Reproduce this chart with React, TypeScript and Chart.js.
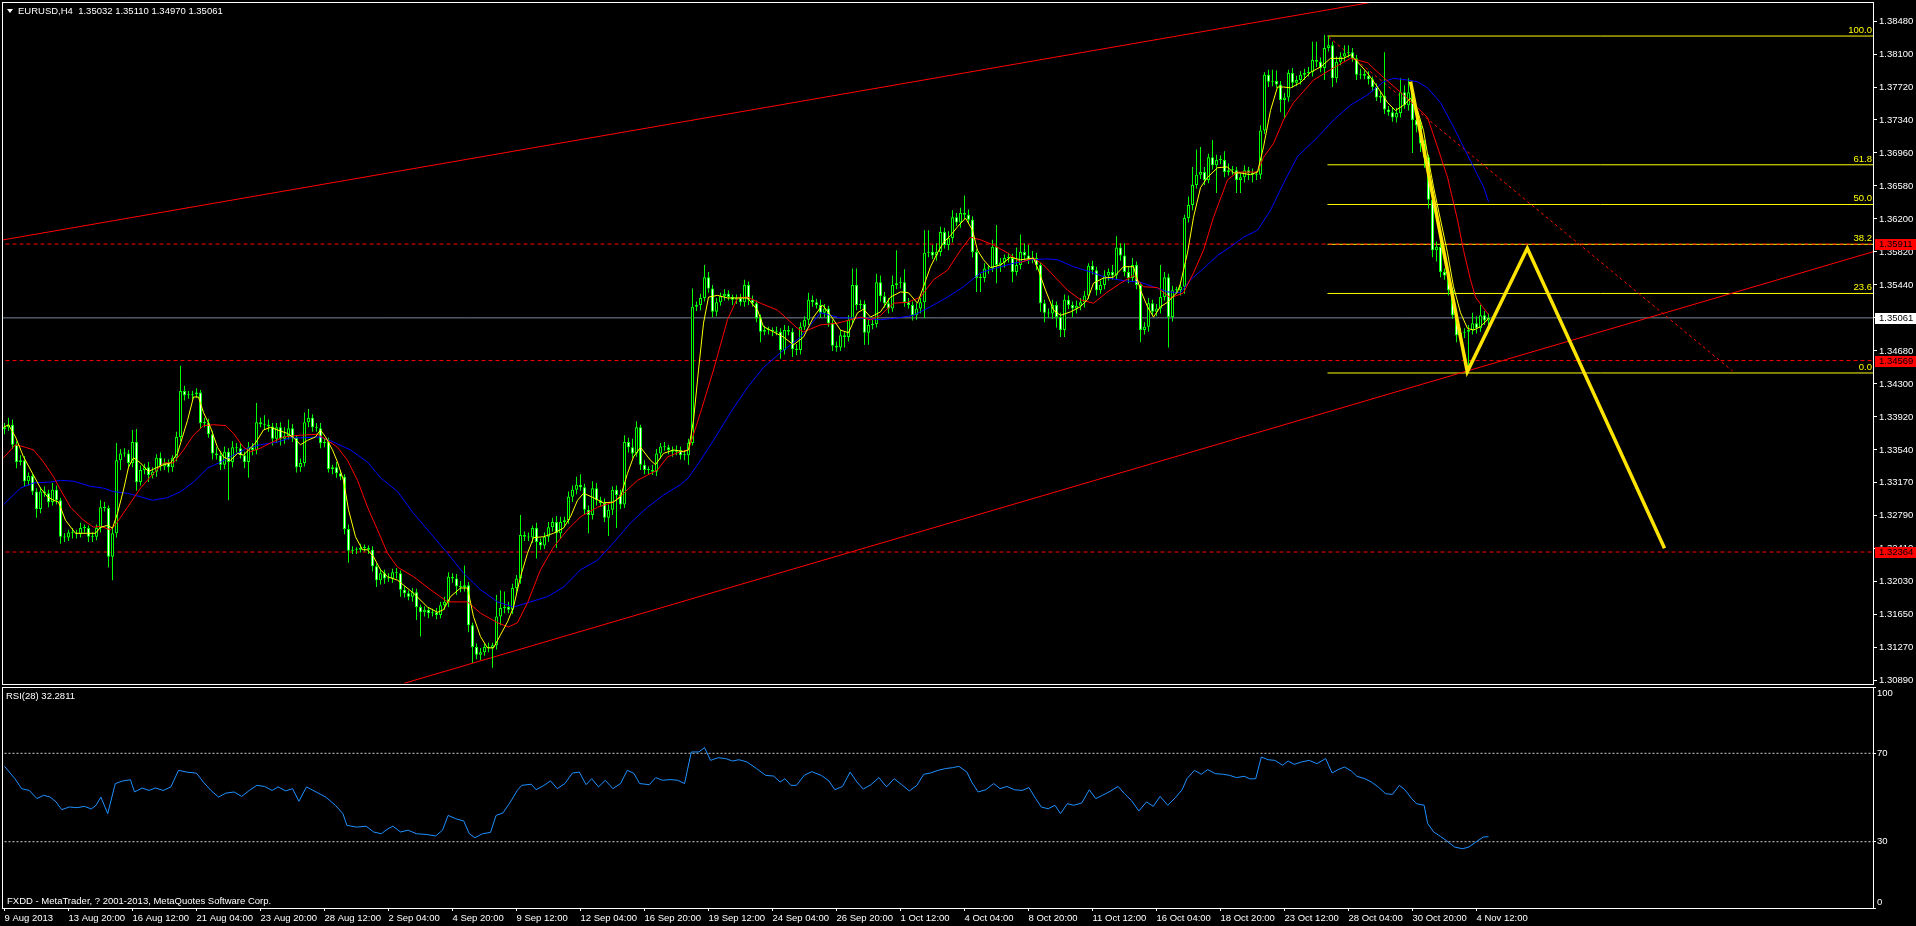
import React, { useEffect, useRef } from "react";
import { Chart, registerables } from "chart.js";

Chart.register(...registerables);

const FONT = "'Liberation Sans', Arial, sans-serif";

// ---------- DATA (prices in 1/10000 units) ----------
const FIRST_OPEN = 13378;
const CLOSES = [
  13380,13383,13360,13340,13342,13318,13324,13306,13286,13306,13304,13294,13308,13296,13254,13253,13259,13258,13257,13264,
  13264,13254,13254,13264,13288,13287,13231,13258,13342,13350,13350,13339,13363,13317,13331,13334,13325,13329,13345,13335,
  13339,13334,13345,13369,13422,13417,13417,13418,13420,13385,13385,13372,13350,13348,13337,13352,13340,13357,13356,13348,
  13340,13357,13354,13386,13384,13383,13381,13367,13380,13367,13370,13379,13368,13334,13339,13386,13391,13380,13379,13362,
  13363,13332,13334,13327,13323,13263,13238,13239,13239,13241,13241,13239,13220,13204,13212,13206,13206,13213,13212,13193,
  13189,13185,13190,13173,13167,13170,13166,13167,13164,13175,13179,13208,13206,13197,13196,13198,13152,13127,13118,13121,
  13127,13126,13129,13162,13172,13173,13170,13195,13206,13256,13254,13253,13264,13248,13244,13254,13265,13271,13258,13271,
  13273,13300,13308,13314,13311,13285,13279,13310,13296,13293,13276,13285,13308,13302,13291,13363,13357,13350,13380,13337,
  13331,13331,13329,13350,13358,13357,13354,13352,13354,13348,13348,13362,13519,13521,13529,13553,13540,13513,13524,13531,
  13534,13530,13527,13529,13524,13544,13527,13523,13506,13490,13492,13492,13491,13490,13469,13492,13490,13470,13469,13496,
  13504,13527,13524,13521,13512,13517,13500,13474,13472,13486,13484,13504,13544,13521,13522,13489,13498,13499,13547,13531,
  13523,13517,13544,13546,13547,13524,13521,13509,13517,13524,13581,13582,13578,13582,13605,13590,13598,13622,13616,13627,
  13625,13619,13582,13552,13552,13563,13563,13588,13567,13570,13575,13575,13559,13567,13582,13578,13573,13575,13567,13523,
  13512,13511,13521,13507,13492,13527,13521,13517,13520,13524,13532,13566,13561,13538,13544,13555,13559,13555,13587,13578,
  13559,13552,13567,13544,13492,13496,13523,13513,13517,13530,13553,13507,13538,13538,13542,13621,13636,13659,13671,13674,
  13665,13691,13682,13688,13688,13674,13676,13676,13665,13668,13676,13673,13671,13671,13722,13786,13778,13779,13775,13757,
  13760,13788,13777,13780,13786,13788,13789,13803,13801,13794,13817,13820,13782,13801,13807,13811,13812,13805,13786,13787,
  13785,13781,13772,13760,13762,13746,13743,13737,13742,13766,13751,13766,13734,13728,13707,13691,13642,13584,13588,13559,
  13555,13538,13509,13486,13489,13490,13492,13500,13494,13509,13503,13506,
];
const UPPER_WICKS = [
  5,8,6,4,6,5,4,3,4,5,6,4,8,5,3,4,3,5,4,6,
  4,3,5,4,8,6,3,6,20,5,6,4,14,15,5,4,6,5,4,6,
  5,4,3,6,29,6,5,4,5,3,6,5,4,7,5,6,4,7,5,6,
  4,6,5,22,5,10,6,4,5,6,10,10,5,3,5,11,10,4,5,6,
  4,5,3,6,4,3,5,4,3,5,4,3,4,3,5,4,6,4,5,3,
  4,3,5,4,3,4,3,4,5,4,6,5,4,5,6,23,4,3,4,5,
  4,5,3,25,20,18,6,5,4,23,4,5,3,6,4,5,6,5,7,6,
  4,6,5,9,12,4,5,8,6,4,5,6,4,5,6,8,5,10,7,3,
  5,4,6,5,4,5,3,4,5,4,6,5,21,4,5,14,6,4,5,4,
  5,4,3,4,5,6,4,5,3,4,5,4,3,5,4,6,5,4,6,5,
  4,8,5,4,6,5,3,4,5,6,4,5,19,19,5,4,6,5,10,8,
  5,6,11,38,6,15,5,4,6,5,26,25,8,10,6,5,8,8,5,6,
  20,6,4,3,5,6,4,8,25,5,4,6,5,20,20,10,12,8,6,3,
  4,5,6,4,5,6,5,4,6,5,5,3,6,4,5,6,4,8,13,5,
  14,6,8,4,3,5,6,4,5,37,6,4,5,4,6,4,10,21,29,29,
  6,4,20,6,5,10,8,5,4,5,6,4,5,4,6,3,6,13,12,4,
  5,4,6,5,4,5,6,21,21,5,15,11,4,6,5,9,8,5,4,6,
  4,5,3,4,5,50,4,5,6,16,8,16,4,3,5,4,3,4,6,5,
  4,5,3,4,5,4,6,12,8,12,5,5,
];
const LOWER_WICKS = [
  6,4,5,7,4,6,5,4,10,5,4,6,4,5,8,5,4,6,5,4,
  5,6,6,4,5,4,12,27,5,11,4,6,5,10,4,5,8,4,6,5,
  4,6,5,4,5,6,4,5,4,6,5,4,7,5,6,5,44,6,5,4,
  7,18,6,5,4,5,6,8,5,8,6,4,5,6,5,4,6,5,4,6,
  5,4,6,5,4,6,14,4,5,3,4,5,6,8,5,6,4,5,6,8,
  5,4,6,15,28,5,6,4,5,4,5,6,5,10,6,5,8,18,5,6,
  4,5,23,5,10,6,4,5,8,6,5,4,6,19,5,4,6,5,17,6,
  5,4,6,5,4,6,21,5,6,4,5,21,6,38,5,4,6,5,4,6,
  5,6,4,5,6,4,5,6,4,5,6,11,3,5,6,4,5,6,5,4,
  5,4,6,5,4,5,6,4,5,12,4,5,6,4,10,5,4,9,6,5,
  4,6,5,4,6,5,4,6,5,4,12,5,4,6,5,14,14,5,4,6,
  5,6,4,5,6,5,4,6,5,6,18,5,4,6,5,4,6,5,4,6,
  5,4,6,16,16,5,6,4,21,8,6,5,12,4,5,6,5,4,6,10,
  11,5,6,12,8,8,5,10,6,5,6,4,5,6,4,5,6,5,4,6,
  5,6,4,5,14,5,6,4,5,6,4,35,5,4,6,8,5,6,4,5,
  6,4,5,32,5,6,4,5,15,15,6,8,9,6,5,4,6,5,4,14,
  21,5,6,4,5,6,4,5,6,5,14,4,10,5,4,6,5,4,6,5,
  4,6,5,4,6,5,4,5,6,5,4,6,38,8,10,12,10,8,13,6,
  5,6,4,8,5,6,47,5,6,4,5,6,
];

// Moving averages: [bar index, price in 1/10000]
const FAST_MA: [number, number][] = [
  [-0.25,13380],[1,13383],[2.75,13369],[4.75,13346],[7,13327],[9,13310],[10.75,13300],[12.25,13296],[13.5,13294],[15.25,13273],
  [17.75,13258],[20.75,13258],[22.75,13258],[24,13265],[25.75,13267],[27,13264],[28.25,13281],[29.75,13308],[31,13334],[32.25,13345],
  [34,13339],[36,13329],[37.75,13333],[39.75,13337],[41.5,13339],[43.25,13350],[44.5,13369],[45.75,13388],[47.25,13415],[48.5,13415],
  [49.75,13397],[51.5,13380],[53.25,13357],[54.75,13346],[56.5,13342],[58.25,13350],[59.75,13348],[61,13354],[62.75,13362],[64.75,13377],
  [66.5,13380],[68.25,13377],[70.75,13373],[72.25,13368],[74,13360],[75.75,13365],[77.75,13369],[79,13377],[80.25,13369],[82,13354],
  [83.25,13340],[84.75,13319],[86,13285],[87.75,13254],[89.5,13239],[90.75,13239],[92.25,13231],[94,13216],[95.75,13208],[98.25,13204],
  [102.25,13189],[105.75,13173],[108.25,13167],[109.75,13170],[111.5,13185],[114,13195],[115.75,13195],[117.25,13162],[119,13139],[120.75,13126],
  [122.25,13126],[124,13141],[125.75,13156],[127.25,13173],[129,13208],[130.75,13235],[132.25,13253],[134.75,13254],[137.25,13258],[139.75,13264],
  [141.5,13277],[143.25,13296],[144.75,13304],[147.25,13299],[149.75,13293],[152.25,13294],[154,13300],[155.75,13327],[157.25,13346],[159,13357],
  [161.5,13342],[162.75,13337],[164.75,13350],[167.25,13354],[169.75,13352],[171,13354],[172.25,13388],[173.5,13446],[174.75,13500],[176,13530],
  [178.25,13532],[180.75,13529],[183.25,13529],[185.75,13529],[188.25,13515],[189.75,13496],[192.25,13490],[194.75,13484],[197.25,13475],[199.75,13484],
  [202.25,13507],[204.5,13521],[206.5,13509],[209,13492],[211,13489],[213.25,13512],[214.75,13516],[216.5,13507],[219,13513],[221.5,13530],
  [224,13536],[226,13535],[228.25,13523],[229.75,13542],[231.5,13565],[233.25,13581],[234.75,13593],[236.5,13601],[238.25,13611],[240.25,13621],
  [242,13607],[243.25,13584],[244.75,13573],[246.5,13564],[249,13567],[251.5,13576],[254,13573],[257.25,13575],[258.5,13561],[260.25,13538],
  [262.25,13515],[264,13509],[266.5,13513],[269,13519],[270.75,13527],[272.25,13546],[274.75,13552],[277.25,13553],[279.75,13565],[282.25,13565],
  [284,13538],[285.75,13519],[287.25,13507],[289,13519],[290.75,13524],[293.25,13536],[294,13546],[295.75,13581],[297.25,13622],[299,13656],
  [300.75,13668],[303.25,13679],[305.75,13680],[307.25,13673],[309,13673],[311.5,13671],[313.25,13674],[314.75,13703],[316.5,13745],[318.25,13772],
  [319.75,13772],[321.5,13771],[324,13777],[326.5,13789],[329,13795],[331.5,13805],[334.75,13805],[336.5,13809],[338.25,13801],[340.75,13788],
  [343.25,13772],[345.75,13754],[347.75,13745],[349.75,13751],[351.5,13759],[353.25,13745],[354.75,13722],[356,13688],[357.25,13657],[359,13619],
  [360.75,13581],[362.25,13542],[364,13512],[365.75,13494],[367.25,13492],[369,13496],[370.75,13504],[371,13506],
];
const MID_MA: [number, number][] = [
  [-0.25,13345],[2.75,13360],[5.25,13357],[7.25,13354],[9.75,13340],[12.25,13323],[14,13308],[16.5,13288],[19.75,13273],[22.25,13265],
  [24,13266],[26.5,13262],[27.75,13268],[30.75,13288],[34,13310],[37.25,13327],[39.75,13339],[42.25,13339],[44.75,13354],[47.25,13371],
  [49.75,13382],[52.25,13383],[55.25,13382],[57.25,13373],[59.75,13357],[61.5,13352],[64,13356],[66.5,13362],[69.75,13369],[74,13371],
  [78.25,13372],[80.75,13365],[83.25,13357],[85.75,13342],[88.25,13319],[90.75,13288],[93.25,13262],[95.75,13235],[98.25,13219],[102.25,13208],
  [106.5,13193],[110.75,13179],[115.75,13179],[119,13166],[123.25,13155],[126,13150],[128.25,13155],[130.75,13178],[134,13216],[137.25,13242],
  [140.75,13262],[144,13277],[148.25,13288],[152.25,13294],[154.75,13304],[158.25,13319],[160.75,13325],[163.25,13331],[165.75,13346],[169,13352],
  [171,13354],[174,13397],[177.25,13446],[180.75,13504],[183.25,13529],[185.75,13530],[189,13523],[193.25,13515],[198.25,13494],[199.75,13490],
  [204,13498],[208.25,13500],[214,13507],[216.5,13504],[219,13509],[222.25,13523],[225.75,13524],[229,13530],[232.25,13550],[235.75,13561],
  [239,13584],[241.5,13599],[244,13596],[247.25,13590],[250.75,13581],[254,13570],[257.25,13575],[259.75,13567],[263.25,13550],[265.75,13538],
  [269,13527],[272.25,13523],[275.75,13536],[279,13546],[282.25,13555],[284.75,13542],[288.25,13541],[291.5,13529],[294.75,13535],[297.25,13558],
  [299.75,13584],[302.25,13622],[305.75,13665],[308.25,13674],[313.25,13674],[314.75,13691],[317.25,13707],[319.75,13734],[322.25,13754],[324,13763],
  [327.25,13780],[331.5,13792],[336.5,13805],[340.75,13800],[344.75,13783],[349,13766],[353.25,13748],[355.75,13737],[358.25,13703],[360.75,13668],
  [363.25,13619],[364.75,13584],[366.5,13550],[367.75,13530],[369.5,13519],[371,13510],
];
const SLOW_MA: [number, number][] = [
  [-0.25,13291],[4,13310],[7.25,13316],[11.5,13317],[14,13319],[17.25,13318],[21.5,13312],[24.75,13310],[27.25,13306],[30.75,13304],
  [34,13300],[37,13296],[40.75,13299],[44,13306],[47.25,13317],[50.75,13333],[54,13340],[57.25,13348],[60.75,13356],[64,13360],
  [68.25,13363],[71.5,13368],[74.75,13368],[79,13369],[82.25,13363],[86.5,13354],[90.75,13340],[94,13322],[98.25,13306],[102.25,13281],
  [106.5,13258],[110.75,13235],[114.75,13212],[119,13193],[123.25,13179],[127.25,13173],[131.5,13179],[135.75,13185],[139.75,13196],[144,13216],
  [148.25,13227],[152.25,13247],[156.5,13270],[160.75,13288],[164.75,13302],[169,13314],[171,13322],[174,13342],[177.25,13365],[181.5,13397],
  [185.75,13426],[189.75,13449],[194,13466],[199,13484],[204,13512],[209,13506],[214,13506],[219,13504],[223.25,13506],[227.25,13509],
  [231.5,13519],[235.75,13530],[239.75,13542],[244,13558],[248.25,13564],[252.25,13569],[256.5,13573],[260.75,13574],[263.25,13573],[267.25,13565],
  [271.5,13559],[275.75,13552],[279.75,13549],[284,13547],[287.25,13542],[290.75,13536],[294,13535],[296.5,13550],[299.75,13563],[303.25,13578],
  [306.5,13588],[309.75,13599],[313.25,13607],[316.5,13630],[319.75,13661],[323.25,13692],[328.25,13714],[332.25,13734],[336.5,13751],[340.75,13763],
  [344.75,13778],[347.25,13782],[350.75,13780],[353.25,13778],[355.75,13771],[359,13754],[362.25,13726],[364.75,13703],[367.25,13680],[369.75,13657],
  [371,13640],
];

// RSI(28): [bar index, value]
const RSI_POINTS: [number, number][] = [
  [0,64.1],[2.6,58.5],[4.3,54],[6.2,53.2],[8.1,49.5],[9.8,51],[11.4,50.2],[12.9,48],[14.3,44.5],[16.2,45.7],[18.1,45.4],[20,46],[21.7,44.8],[22.9,46.5],
  [24.1,50.2],[25.8,42.7],[27.7,56.3],[29.6,57.5],[31.5,58],[32.5,52.5],[34.4,54.3],[36.1,53.2],[37.7,54.3],[39.7,53.2],[41.6,54.8],[43.5,62.3],
  [45.6,61.5],[48,61],[49.7,57],[51.6,53.2],[53.5,50.2],[55.4,52],[57.4,52.5],[59.3,50.5],[61.2,53.2],[63.1,55.5],[65,55],[66.9,53.2],[68.4,54.8],
  [70.3,53],[72,54],[73.6,48.3],[75.5,54.8],[77.9,52.5],[80.3,50.2],[82.7,46.5],[84.6,42.7],[85.6,37.4],[88,36.6],[90.4,37],[92.3,34.4],[94.2,33.6],
  [95.9,35.9],[97.1,37],[99,34.4],[100.9,35.2],[103,33.6],[105.4,33.3],[107.8,32.6],[109.5,35.2],[110.9,41.9],[112.8,40.4],[114.8,39.4],[116.2,33.6],
  [117.6,31.8],[119.5,33.6],[121.5,34.2],[122.9,41.9],[124.6,43],[126.2,47.2],[128.2,53.2],[129.3,55.5],[131.7,56],[132.9,53.5],[134.9,55.5],[136.5,57.5],
  [138.2,54],[140.1,56.3],[142,61.1],[143.7,61.5],[145.4,55.8],[146.8,58.5],[148.5,54.8],[150.2,57.8],[152.1,54],[154,56.3],[155.7,62.3],[157.3,61],
  [158.8,56.3],[161.2,55.8],[162.8,59],[164.5,57.8],[166.4,58.1],[168.3,57.8],[170,56.3],[171.7,70.6],[173.6,70.6],[175,72.6],[176.5,66.8],[178.4,68],
  [180.3,67.6],[182,66.5],[183.6,67.1],[185.6,66.1],[188,63.1],[190.3,60],[192.3,59.7],[193.9,57],[195.1,58.5],[196.6,55.5],[198,55.5],[199.9,60],
  [201.8,61.7],[204.2,60],[206.1,57.5],[207.6,53.5],[209.5,55],[211.4,61.5],[213.1,57],[214.7,53.8],[216.6,55.8],[218.6,59],[220.5,54.8],[222.4,58.5],
  [224.3,55.8],[226.2,53],[228.1,55.5],[229.8,60.5],[231.5,61.1],[233.4,62.3],[235.3,63.1],[237,63.5],[238.6,64.1],[240.6,61.5],[241.8,57],[243.4,52.5],
  [245.3,53.5],[247.3,56.3],[248.9,54],[250.6,55],[252.5,53.5],[254.4,53.2],[256.1,54.5],[257.8,49.5],[259.2,45.7],[260.9,44.9],[262.6,46.5],[264,42.7],
  [265.7,47.2],[267.3,46.5],[269.3,47.5],[271.2,53.5],[272.8,49.5],[274.5,51],[276.4,52.8],[278.4,55],[280,51.7],[281.7,48.7],[283.6,43.9],[285.5,48],
  [287.2,46],[288.9,50.5],[290.8,46.5],[292.7,49.9],[294.4,53.5],[295.6,58.5],[297.5,62.3],[299.2,60.5],[300.8,62.6],[302.7,60.8],[304.7,60.5],[306.3,60],
  [308,59],[309.9,59.6],[311.4,58.4],[312.8,58.5],[314.2,68.3],[315.9,67.1],[317.6,66.8],[319.5,64.6],[320.9,66.5],[322.4,65],[324.3,66.1],[326.2,66.8],
  [328.1,65.3],[330.3,67.6],[331.9,61.1],[333.4,62.6],[335,63.8],[336.7,62],[338.1,59.6],[340.1,58.5],[341.7,57],[343.4,54.8],[345.3,51.7],[347,51.4],
  [348.7,55.5],[350.1,53.5],[351.8,49.5],[353,47.2],[354.9,46.5],[355.8,38.2],[357.3,34.4],[359,32.4],[360.6,30.3],[362.5,27.6],[364.5,26.8],[366.1,27.6],
  [367.8,29.8],[369.7,32.1],[371,32.28],
];
const RSI_LEVELS = [70, 30];
const RSI_TICKS = [0, 30, 70, 100];

// Drawn objects
const FIB_LABELS = ["100.0", "61.8", "50.0", "38.2", "23.6", "0.0"];
const FIB_PRICES = [1.38307, 1.36824, 1.36367, 1.35908, 1.35342, 1.34426];
const FIB_START_BAR = 330.75;
const RED_LEVELS = [1.35911, 1.34569, 1.32364];
const CURRENT_PRICE = 1.35061;
const UPPER_CHANNEL: [number, number][] = [[-1, 1.35954], [350, 1.38762]];
const LOWER_CHANNEL: [number, number][] = [[100, 1.30853], [470, 1.35861]];
const DASHED_TREND: [number, number][] = [[331, 1.38296], [432, 1.34449]];
const ZIGZAG: [number, number][] = [[351.5, 1.37781], [365.7, 1.34441], [380.7, 1.35862], [415, 1.32407]];

const PRICE_TICKS = [1.3089, 1.3127, 1.3165, 1.3203, 1.3241, 1.3279, 1.3317, 1.3354, 1.3392, 1.343, 1.3468, 1.3506, 1.3544, 1.3582, 1.362, 1.3658, 1.3696, 1.3734, 1.3772, 1.381, 1.3848];
const TIME_TICK_BARS = [0, 16, 32, 48, 64, 80, 96, 112, 128, 144, 160, 176, 192, 208, 224, 240, 256, 272, 288, 304, 320, 336, 352, 368];
const TIME_LABELS = ["9 Aug 2013", "13 Aug 20:00", "16 Aug 12:00", "21 Aug 04:00", "23 Aug 20:00", "28 Aug 12:00", "2 Sep 04:00", "4 Sep 20:00", "9 Sep 12:00", "12 Sep 04:00", "16 Sep 20:00", "19 Sep 12:00", "24 Sep 04:00", "26 Sep 20:00", "1 Oct 12:00", "4 Oct 04:00", "8 Oct 20:00", "11 Oct 12:00", "16 Oct 04:00", "18 Oct 20:00", "23 Oct 12:00", "28 Oct 04:00", "30 Oct 20:00", "4 Nov 12:00"];

const TITLE = "EURUSD,H4  1.35032 1.35110 1.34970 1.35061";
const RSI_TITLE = "RSI(28) 32.2811";
const FOOTER = "FXDD - MetaTrader, ? 2001-2013, MetaQuotes Software Corp.";

// ---------- layout constants ----------
const PIP = 10000;
const X_MIN = -0.625;
const X_MAX = 467.125;
const Y_MIN = 1.30844;
const Y_MAX = 1.38699;
const AXIS_W = 43;
const FONT_SIZE = 9.5;

const pts = (arr: [number, number][], div = 1) => arr.map(([x, y]) => ({ x, y: y / div }));
const lineDs = (data: any[], color: string, width = 1, dash: number[] = [], order = 1): any => ({
  type: "line",
  data,
  borderColor: color,
  borderWidth: width,
  borderDash: dash,
  pointRadius: 0,
  pointHoverRadius: 0,
  fill: false,
  tension: 0,
  order,
});
const hLine = (p: number, from = -5) => [{ x: from, y: p }, { x: 480, y: p }];

const mainOverlay = {
  id: "mainOverlay",
  afterDraw(chart: any) {
    const { ctx, chartArea: a, scales } = chart;
    const ys = scales.y;
    ctx.save();
    ctx.strokeStyle = "#ffffff";
    ctx.lineWidth = 1;
    ctx.setLineDash([]);
    ctx.strokeRect(a.left + 0.5, a.top + 0.5, a.right - a.left, a.bottom - a.top);
    ctx.font = `${FONT_SIZE}px ${FONT}`;
    ctx.fillStyle = "#ffff00";
    ctx.textAlign = "right";
    ctx.textBaseline = "bottom";
    FIB_PRICES.forEach((p, i) => {
      ctx.fillText(FIB_LABELS[i], a.right - 1, Math.round(ys.getPixelForValue(p)) - 1);
    });
    const box = (price: number, bg: string, fg: string) => {
      const py = Math.round(ys.getPixelForValue(price));
      ctx.fillStyle = bg;
      ctx.fillRect(a.right + 2, py - 5, 41, 11);
      ctx.fillStyle = fg;
      ctx.textAlign = "left";
      ctx.textBaseline = "middle";
      ctx.fillText(price.toFixed(5), a.right + 6, py + 0.5);
    };
    RED_LEVELS.forEach((p) => box(p, "#ff0000", "#000000"));
    box(CURRENT_PRICE, "#ffffff", "#000000");
    ctx.restore();
  },
};

const rsiOverlay = {
  id: "rsiOverlay",
  afterDraw(chart: any) {
    const { ctx, chartArea: a } = chart;
    ctx.save();
    ctx.strokeStyle = "#ffffff";
    ctx.lineWidth = 1;
    ctx.setLineDash([]);
    ctx.strokeRect(a.left + 0.5, a.top + 0.5, a.right - a.left, a.bottom - a.top);
    ctx.font = `${FONT_SIZE}px ${FONT}`;
    ctx.fillStyle = "#ffffff";
    ctx.textAlign = "left";
    ctx.textBaseline = "middle";
    ctx.fillText(String(RSI_TICKS[3]), a.right + 4, a.top + 6);
    ctx.fillText(String(RSI_TICKS[0]), a.right + 4, a.bottom - 6);
    ctx.restore();
  },
};

export default function App() {
  const mainRef = useRef<HTMLCanvasElement>(null);
  const rsiRef = useRef<HTMLCanvasElement>(null);

  useEffect(() => {
    document.body.style.margin = "0";
    document.body.style.background = "#000";
    Chart.defaults.font.family = FONT;

    const opens = CLOSES.map((c, i) => (i === 0 ? FIRST_OPEN : CLOSES[i - 1]));
    const wickData = CLOSES.map((c, i) => ({
      x: i,
      y: [(Math.min(opens[i], c) - LOWER_WICKS[i]) / PIP, (Math.max(opens[i], c) + UPPER_WICKS[i]) / PIP],
    }));
    const bodyData = CLOSES.map((c, i) => ({ x: i, y: [opens[i] / PIP, c / PIP] }));
    const bodyFill = CLOSES.map((c, i) => (c >= opens[i] ? "#000000" : "#ffffff"));

    const datasets: any[] = [
      ...RED_LEVELS.map((p) => lineDs(hLine(p), "#ff0000", 1, [4, 3], 7)),
      lineDs(hLine(CURRENT_PRICE), "#778899", 1, [], 7),
      ...FIB_PRICES.map((p) => lineDs(hLine(p, FIB_START_BAR), "#ffff00", 1, [], 7)),
      lineDs(pts(UPPER_CHANNEL), "#ff0000", 1, [], 6),
      lineDs(pts(LOWER_CHANNEL), "#ff0000", 1, [], 6),
      lineDs(pts(DASHED_TREND), "#ff0000", 1, [3, 3], 6),
      {
        type: "bar",
        data: wickData,
        backgroundColor: "#00ff00",
        borderWidth: 0,
        barThickness: 1,
        grouped: false,
        inflateAmount: 0,
        order: 5,
      },
      {
        type: "bar",
        data: bodyData,
        backgroundColor: bodyFill,
        borderColor: "#00ff00",
        borderWidth: 1,
        borderSkipped: false,
        barThickness: 3,
        grouped: false,
        minBarLength: 1,
        inflateAmount: 0,
        order: 4,
      },
      lineDs(pts(SLOW_MA, PIP), "#0000ff", 1, [], 3),
      lineDs(pts(MID_MA, PIP), "#ff0000", 1, [], 2),
      lineDs(pts(FAST_MA, PIP), "#ffff00", 1, [], 1),
      { ...lineDs(pts(ZIGZAG), "#ffe400", 3.5, [], 0), borderJoinStyle: "miter" },
    ];

    const main = new Chart(mainRef.current as HTMLCanvasElement, {
      type: "bar",
      data: { datasets },
      options: {
        animation: false,
        responsive: false,
        devicePixelRatio: 1,
        events: [],
        layout: { padding: { left: 2, top: 2, right: 0, bottom: 2 } },
        plugins: { legend: { display: false }, tooltip: { enabled: false } },
        scales: {
          x: { type: "linear", min: X_MIN, max: X_MAX, offset: false, display: false, grid: { offset: false } },
          y: {
            type: "linear",
            position: "right",
            min: Y_MIN,
            max: Y_MAX,
            afterBuildTicks: (s: any) => {
              s.ticks = PRICE_TICKS.map((v) => ({ value: v }));
            },
            afterFit: (s: any) => {
              s.width = AXIS_W;
              s.paddingTop = 0;
              s.paddingBottom = 0;
            },
            ticks: {
              color: "#ffffff",
              font: { family: FONT, size: FONT_SIZE },
              padding: 2,
              autoSkip: false,
              callback: (v: any) => Number(v).toFixed(5),
            },
            grid: { display: true, drawOnChartArea: false, drawTicks: true, tickLength: 4, color: "#ffffff" },
            border: { display: false },
          },
        },
      } as any,
      plugins: [mainOverlay],
    });

    const rsi = new Chart(rsiRef.current as HTMLCanvasElement, {
      type: "line",
      data: {
        datasets: [
          ...RSI_LEVELS.map((l) => lineDs(hLine(l), "#d0d0d0", 1, [2, 2], 2)),
          lineDs(pts(RSI_POINTS), "#1e90ff", 1, [], 1),
        ],
      },
      options: {
        animation: false,
        responsive: false,
        devicePixelRatio: 1,
        events: [],
        layout: { padding: { left: 2, top: 3, right: 0, bottom: 0 } },
        plugins: { legend: { display: false }, tooltip: { enabled: false } },
        scales: {
          x: {
            type: "linear",
            position: "bottom",
            min: X_MIN,
            max: X_MAX,
            offset: false,
            afterBuildTicks: (s: any) => {
              s.ticks = TIME_TICK_BARS.map((v) => ({ value: v }));
            },
            afterFit: (s: any) => {
              s.height = 18;
              s.paddingLeft = 0;
              s.paddingRight = 0;
            },
            ticks: {
              color: "#ffffff",
              font: { family: FONT, size: FONT_SIZE },
              padding: 2,
              autoSkip: false,
              maxRotation: 0,
              minRotation: 0,
              align: "start",
              callback: (_v: any, i: number) => TIME_LABELS[i],
            },
            grid: { display: true, drawOnChartArea: false, drawTicks: true, tickLength: 3, color: "#ffffff" },
            border: { display: false },
          },
          y: {
            type: "linear",
            position: "right",
            min: 0,
            max: 100,
            afterBuildTicks: (s: any) => {
              s.ticks = RSI_TICKS.map((v) => ({ value: v }));
            },
            afterFit: (s: any) => {
              s.width = AXIS_W;
              s.paddingTop = 0;
              s.paddingBottom = 0;
            },
            ticks: {
              color: "#ffffff",
              font: { family: FONT, size: FONT_SIZE },
              padding: 1,
              autoSkip: false,
              callback: (v: any) => (v === 30 || v === 70 ? String(v) : ""),
            },
            grid: { display: true, drawOnChartArea: false, drawTicks: true, tickLength: 3, color: "#ffffff" },
            border: { display: false },
          },
        },
      } as any,
      plugins: [rsiOverlay],
    });

    return () => {
      main.destroy();
      rsi.destroy();
    };
  }, []);

  const textStyle: React.CSSProperties = {
    position: "absolute",
    color: "#ffffff",
    fontFamily: FONT,
    fontSize: FONT_SIZE,
    lineHeight: "11px",
    whiteSpace: "pre",
  };

  return (
    <div style={{ position: "absolute", left: 0, top: 0, width: 1916, height: 926, background: "#000", overflow: "hidden" }}>
      <canvas ref={mainRef} width={1916} height={686} style={{ position: "absolute", left: 0, top: 0, width: 1916, height: 686 }} />
      <canvas ref={rsiRef} width={1916} height={242} style={{ position: "absolute", left: 0, top: 684, width: 1916, height: 242 }} />
      <div style={{ position: "absolute", left: 7, top: 9, width: 0, height: 0, borderLeft: "3px solid transparent", borderRight: "3px solid transparent", borderTop: "4px solid #ffffff" }} />
      <div style={{ ...textStyle, left: 18, top: 5 }}>{TITLE}</div>
      <div style={{ ...textStyle, left: 6, top: 690 }}>{RSI_TITLE}</div>
      <div style={{ ...textStyle, left: 7, top: 895 }}>{FOOTER}</div>
    </div>
  );
}
